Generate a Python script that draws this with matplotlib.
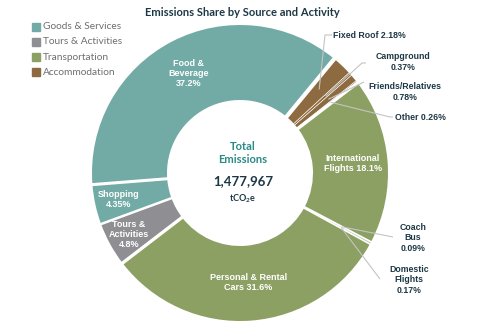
import numpy as np
import matplotlib.pyplot as plt
from matplotlib.patches import Rectangle

# slices, clockwise from the Food/Shopping boundary
labels = ['Food & Beverage', 'Fixed Roof', 'Campground', 'Friends/Relatives', 'Other',
          'International Flights', 'Coach Bus', 'Domestic Flights',
          'Personal & Rental Cars', 'Tours & Activities', 'Shopping']
shares = [37.2, 2.18, 0.37, 0.78, 0.26, 18.1, 0.09, 0.17, 31.6, 4.8, 4.35]
slice_group = [0, 3, 3, 3, 3, 2, 2, 2, 2, 1, 0]

group_names = ['Goods & Services', 'Tours & Activities', 'Transportation', 'Accommodation']
group_colors = ['#72aba6', '#8e8e93', '#8ca063', '#8d6a3f']

total_emissions = 1477967

W, H = 500, 328
fig = plt.figure(figsize=(W / 100, H / 100), dpi=100)
ax = fig.add_axes([0, 0, 1, 1])

def py(y):
    return H - y

cx, cy = 240, py(173)
R, r_in = 148, 73

wedges, _ = ax.pie(shares, colors=[group_colors[g] for g in slice_group],
                   startangle=184.5, counterclock=False, center=(cx, cy), radius=R,
                   wedgeprops=dict(width=R - r_in, linewidth=0), frame=True)
ax.set_xlim(0, W)
ax.set_ylim(0, H)
ax.set_aspect('equal')
ax.axis('off')

# white gaps at the start of each slice (slice i / slice i-1)
gap_widths = [2.2, 3.0, 0.5, 0.5, 0.5, 2.4, 1.3, 0, 1.3, 2.4, 1.8]
for w, gw in zip(wedges, gap_widths):
    if gw == 0:
        continue
    a = np.deg2rad(w.theta2)
    ax.plot([cx + (r_in - 1) * np.cos(a), cx + (R + 1) * np.cos(a)],
            [cy + (r_in - 1) * np.sin(a), cy + (R + 1) * np.sin(a)],
            color='white', lw=gw, solid_capstyle='butt')

def anchor(i, rad):
    w = wedges[i]
    a = np.deg2rad((w.theta1 + w.theta2) / 2)
    return cx + rad * np.cos(a), cy + rad * np.sin(a)

white_kw = dict(color='white', fontsize=6.5, fontweight='bold', ha='center', va='center',
                family='Liberation Sans', linespacing=1.15)
ax.text(*anchor(0, 112), 'Food &\nBeverage\n37.2%', **white_kw)
ax.text(*anchor(5, 113), 'International\nFlights 18.1%', **white_kw)
ax.text(*anchor(8, 110), 'Personal & Rental\nCars 31.6%', **white_kw)
ax.text(*anchor(9, 127), 'Tours &\nActivities\n4.8%', **white_kw)
ax.text(*anchor(10, 124), 'Shopping\n4.35%', **white_kw)

# leader lines and outside labels
dark = '#1d3845'
lead = '#c4c4c4'
out_kw = dict(color=dark, fontsize=6.3, fontweight='bold', family='Liberation Sans',
              linespacing=1.2, va='center')
callouts = [
    (1, [(325, 35), (332, 35)], (333, 35), 'Fixed Roof 2.18%', 'left'),
    (2, [(362, 63), (366, 63)], (403, 62), 'Campground\n0.37%', 'center'),
    (3, [(364, 82)], (405, 92), 'Friends/Relatives\n0.78%', 'center'),
    (4, [(390, 117), (393, 117)], (395, 117), 'Other 0.26%', 'left'),
    (6, [(393, 237)], (413, 238), 'Coach\nBus\n0.09%', 'center'),
    (7, [(380, 279)], (409, 280), 'Domestic\nFlights\n0.17%', 'center'),
]
for i, pts, tpos, txt, ha in callouts:
    x0, y0 = anchor(i, 115)
    xs = [x0] + [p[0] for p in pts]
    ys = [y0] + [py(p[1]) for p in pts]
    ax.plot(xs, ys, color=lead, lw=0.8, solid_capstyle='butt')
    ax.text(tpos[0], py(tpos[1]), txt, ha=ha, **out_kw)

# centre text
teal = '#2a8a86'
ax.text(cx + 3, py(153), 'Total\nEmissions', color=teal, fontsize=8, fontweight='bold',
        family='Lato', ha='center', va='center', linespacing=1.15)
ax.text(cx + 3, py(181), f'{total_emissions:,}', color=dark, fontsize=9.5, fontweight='bold',
        family='Lato', ha='center', va='center')
ax.text(cx + 3, py(199), r'tCO$_\mathregular{2}$e', color=dark, fontsize=6.5, fontweight='bold',
        family='Lato', ha='center', va='center')

# title
ax.text(242, py(12), 'Emissions Share by Source and Activity', color=dark, fontsize=8,
        fontweight='bold', family='Lato', ha='center', va='center')

# legend
for k, (name, col) in enumerate(zip(group_names, group_colors)):
    yc = 26.5 + k * 15.3
    ax.add_patch(Rectangle((32, py(yc) - 4), 8, 8, color=col))
    ax.text(43, py(yc), name, color='#6e6e6e', fontsize=7.3, family='Lato', va='center')

fig.savefig('out.png', dpi=100)
